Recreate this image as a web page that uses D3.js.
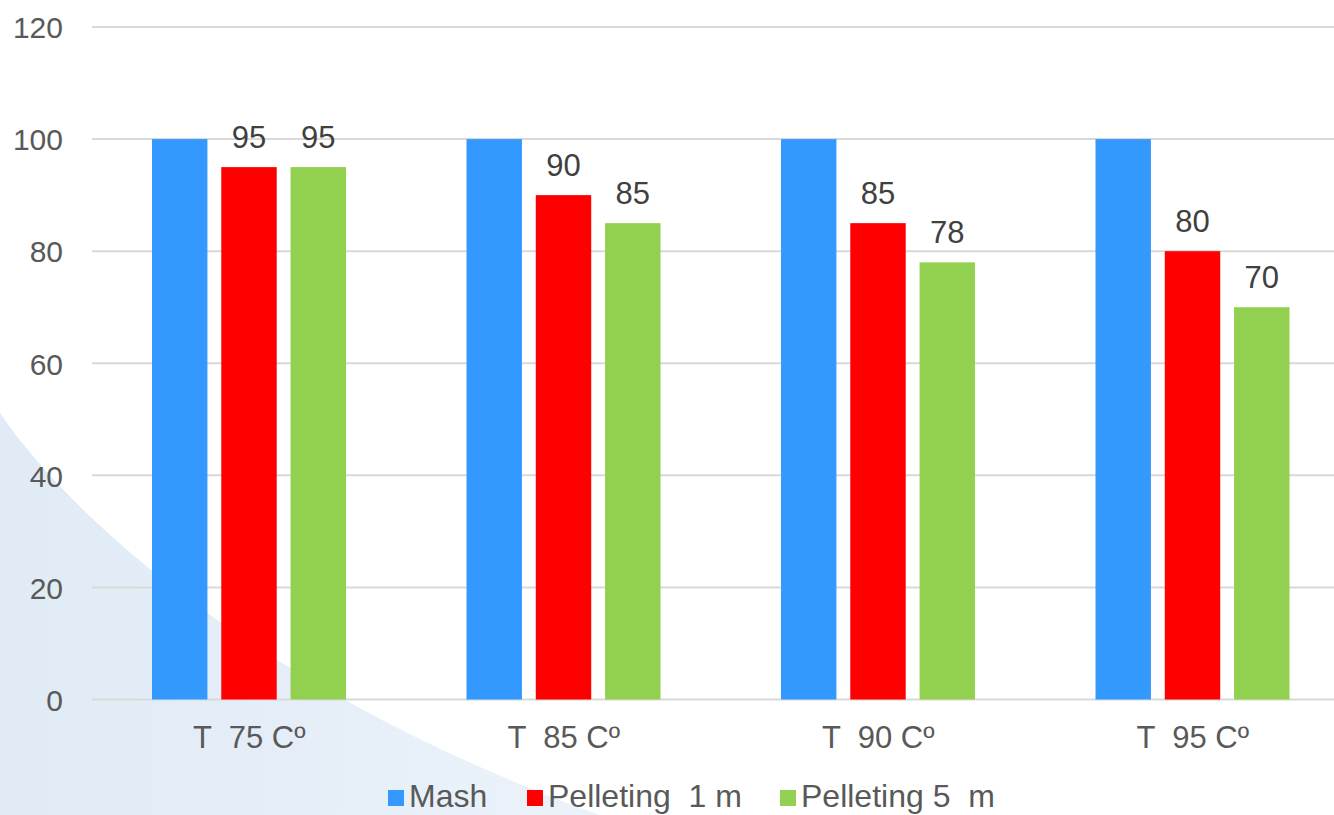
<!DOCTYPE html>
<html>
<head>
<meta charset="utf-8">
<script src="https://cdn.jsdelivr.net/npm/d3@7"></script>
<style>
  html, body { margin: 0; padding: 0; background: #ffffff; }
  svg { display: block; font-family: "Liberation Sans", Arial, sans-serif; }
</style>
</head>
<body>
<svg id="chart" width="1334" height="815"></svg>
<script>
// Chart data
const categories = ["T  75 Cº", "T  85 Cº", "T  90 Cº", "T  95 Cº"];
const seriesNames = ["Mash", "Pelleting  1 m", "Pelleting 5  m"];
const mash = [100, 100, 100, 100];
const pellet1 = [95, 90, 85, 80];
const pellet5 = [95, 85, 78, 70];
const yTicks = [0, 20, 40, 60, 80, 100, 120];
const colors = ["#3399ff", "#ff0000", "#92d050"];
const showLabel = [false, true, true];

const seriesValues = [mash, pellet1, pellet5];

const svg = d3.select("#chart");
const W = 1334, H = 815;

// Soft blue backdrop in the lower-left corner
const defs = svg.append("defs");
const grad = defs.append("linearGradient")
  .attr("id", "bgGrad")
  .attr("x1", "0").attr("y1", "0").attr("x2", "1").attr("y2", "0");
grad.append("stop").attr("offset", "0%").attr("stop-color", "#e0ebf6");
grad.append("stop").attr("offset", "100%").attr("stop-color", "#ebf2fa");
svg.append("path")
  .attr("d", "M0,413 C80,530 280,700 600,815 L0,815 Z")
  .attr("fill", "url(#bgGrad)");

const plot = { left: 92, right: 1350, top: 27, bottom: 699.5 };

const y = d3.scaleLinear().domain([0, 120]).range([plot.bottom, plot.top]);
const x0 = d3.scaleBand().domain(categories).range([plot.left, plot.right]).padding(0);
const x1 = d3.scaleBand().domain(seriesNames).range([60, 254]).paddingInner(0.2).paddingOuter(0);

// Gridlines
svg.append("g")
  .selectAll("line")
  .data(yTicks)
  .join("line")
  .attr("x1", plot.left)
  .attr("x2", W)
  .attr("y1", d => y(d))
  .attr("y2", d => y(d))
  .attr("stroke", "#d9d9d9")
  .attr("stroke-width", 2);

// Y axis labels
const yAxis = d3.axisLeft(y).tickValues(yTicks).tickSize(0).tickPadding(0);
const gy = svg.append("g").attr("transform", "translate(63,0)").call(yAxis);
gy.select(".domain").remove();
gy.selectAll("text")
  .attr("font-size", 30)
  .attr("fill", "#595959")
  .attr("font-family", "Liberation Sans, Arial, sans-serif")
  .attr("dy", "0.36em");

// Bars
const groups = svg.append("g")
  .selectAll("g")
  .data(categories)
  .join("g")
  .attr("transform", d => `translate(${x0(d)},0)`);

groups.selectAll("rect")
  .data((c, i) => seriesNames.map((s, j) => ({ s, j, v: seriesValues[j][i] })))
  .join("rect")
  .attr("x", d => x1(d.s))
  .attr("width", x1.bandwidth())
  .attr("y", d => y(d.v))
  .attr("height", d => y(0) - y(d.v))
  .attr("fill", d => colors[d.j]);

// Value labels
groups.selectAll("text.val")
  .data((c, i) => seriesNames.map((s, j) => ({ s, j, v: seriesValues[j][i] })).filter(d => showLabel[d.j]))
  .join("text")
  .attr("class", "val")
  .attr("x", d => x1(d.s) + x1.bandwidth() / 2)
  .attr("y", d => y(d.v) - 19)
  .attr("text-anchor", "middle")
  .attr("font-size", 31)
  .attr("fill", "#404040")
  .text(d => d.v);

// Category labels
const xAxis = d3.axisBottom(x0).tickSize(0).tickPadding(0);
const gx = svg.append("g").attr("transform", `translate(0,${plot.bottom})`).call(xAxis);
gx.select(".domain").remove();
gx.selectAll("text")
  .attr("font-size", 31)
  .attr("fill", "#595959")
  .attr("font-family", "Liberation Sans, Arial, sans-serif")
  .attr("y", 48.5)
  .attr("dy", 0)
  .style("white-space", "pre");

// Legend
const legendX = [388, 527, 780];
const legend = svg.append("g")
  .selectAll("g")
  .data(seriesNames)
  .join("g")
  .attr("transform", (d, i) => `translate(${legendX[i]},0)`);
legend.append("rect")
  .attr("x", 0).attr("y", 790).attr("width", 16).attr("height", 16)
  .attr("fill", (d, i) => colors[i]);
legend.append("text")
  .attr("x", 21).attr("y", 807)
  .attr("font-size", 32)
  .attr("fill", "#595959")
  .style("white-space", "pre")
  .text(d => d);
</script>
</body>
</html>
